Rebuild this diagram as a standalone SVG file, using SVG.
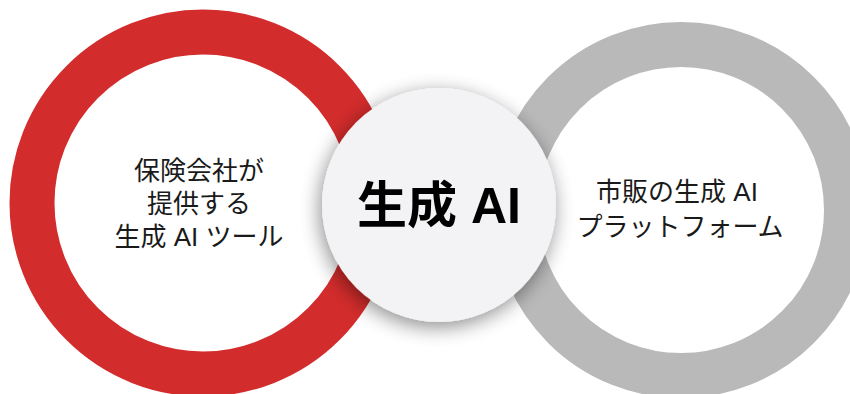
<svg xmlns="http://www.w3.org/2000/svg" width="850" height="394" viewBox="0 0 850 394">
  <style>
    .ring { fill: none; stroke-width: 45; }
    .label { font-family: "Liberation Sans", "Noto Sans CJK JP", sans-serif; font-size: 26px; fill: #1a1a1a; text-anchor: middle; }
    .title { font-family: "Liberation Sans", "Noto Sans CJK JP", sans-serif; font-size: 50px; font-weight: bold; fill: #000; text-anchor: middle; }
  </style>
  <defs>
    <filter id="shadow" x="-30%" y="-30%" width="160%" height="160%">
      <feGaussianBlur in="SourceAlpha" stdDeviation="10"/>
      <feOffset dx="-2" dy="5" result="b"/>
      <feComponentTransfer><feFuncA type="linear" slope="0.45"/></feComponentTransfer>
      <feMerge><feMergeNode/><feMergeNode in="SourceGraphic"/></feMerge>
    </filter>
  </defs>
  <rect width="850" height="394" fill="#ffffff"/>
  <g id="left-ring">
    <circle class="ring" cx="203" cy="203" r="171" stroke="#d32c2c"/>
    <text class="label" x="199" y="180">保険会社が</text>
    <text class="label" x="199" y="213">提供する</text>
    <text class="label" x="199" y="246">生成 AI ツール</text>
  </g>
  <g id="right-ring">
    <circle class="ring" cx="681" cy="210" r="165.5" stroke="#b9b9b9"/>
    <text class="label" x="677" y="201">市販の生成 AI</text>
    <text class="label" x="680" y="236">プラットフォーム</text>
  </g>
  <g id="center">
    <circle cx="439" cy="205" r="117" fill="#f3f3f5" filter="url(#shadow)"/>
    <text class="title" x="439" y="223">生成 AI</text>
  </g>
  <g id="connectors"/>
</svg>
